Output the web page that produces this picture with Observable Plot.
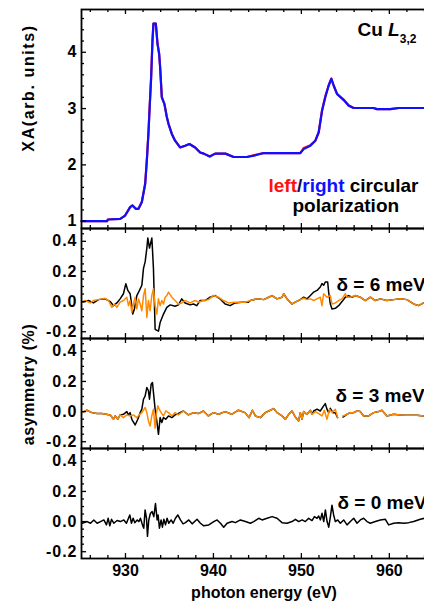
<!DOCTYPE html>
<html><head><meta charset="utf-8">
<script src="https://cdn.jsdelivr.net/npm/d3@7"></script>
<script src="https://cdn.jsdelivr.net/npm/@observablehq/plot@0.6"></script>
<style>
html,body{margin:0;padding:0;background:#fff;}
#chart{position:relative;width:424px;height:602px;overflow:hidden;background:#fff;}
</style></head><body><div id="chart"></div>
<script>
// ---------- axes / ticks ----------
const energyDomain = [925, 966.5];
const xMajorTicks = [930, 940, 950, 960];
const xMinorTicks = [926, 928, 932, 934, 936, 938, 942, 944, 946, 948, 952, 954, 956, 958, 962, 964, 966];
const xaDomain = [0.87, 4.76];
const xaMajorTicks = [1, 2, 3, 4];
const xaMinorTicks = [1.2, 1.4, 1.6, 1.8, 2.2, 2.4, 2.6, 2.8, 3.2, 3.4, 3.6, 3.8, 4.2, 4.4, 4.6];
const asymDomain = [-0.245, 0.485];
const asymMajorTicks = [-0.2, 0, 0.2, 0.4];
const asymMinorTicks = [-0.15, -0.1, -0.05, 0.05, 0.1, 0.15, 0.25, 0.3, 0.35, 0.45];

// ---------- texts ----------
const xTitle = "photon energy (eV)";
const xaTitle = "XA(arb. units)";
const asymTitle = "asymmetry (%)";
const edgeLabel = "Cu L3,2";
const polLine1 = "left/right circular";
const polLine2 = "polarization";
const deltaLabels = ["δ = 6 meV", "δ = 3 meV", "δ = 0 meV"];

// ---------- XA spectra [energy, XA] ----------
const xaRight = [[925.0,1.00],[927.9,1.00],[928.0,1.03],[929.4,1.04],[929.96,1.10],[930.53,1.25],[930.8,1.28],[931.17,1.22],[931.48,1.22],[931.86,1.34],[932.24,1.66],[932.43,2.08],[932.61,2.55],[932.73,2.96],[932.92,3.56],[933.07,4.21],[933.18,4.51],[933.45,4.51],[933.64,4.15],[933.83,3.97],[933.94,3.73],[934.13,3.20],[934.43,3.08],[934.70,2.85],[934.89,2.73],[935.27,2.55],[935.64,2.43],[936.21,2.31],[936.78,2.34],[937.27,2.37],[937.92,2.31],[938.49,2.22],[938.9,2.20],[939.58,2.15],[940.2,2.20],[941.36,2.20],[942.3,2.14],[943.8,2.14],[944.77,2.17],[945.72,2.21],[949.88,2.21],[950.26,2.28],[951.02,2.34],[951.59,2.43],[951.97,2.58],[952.35,2.96],[952.72,3.20],[953.1,3.41],[953.41,3.53],[953.67,3.41],[954.05,3.26],[954.81,3.15],[955.38,3.05],[955.94,3.01],[958.2,3.01],[958.6,2.99],[960.1,2.99],[961.06,3.01],[966.5,3.01]];
const xaLeft = [[925.0,1.00],[927.9,1.00],[928.0,1.03],[929.4,1.04],[929.96,1.10],[930.53,1.25],[930.8,1.28],[931.17,1.22],[931.48,1.22],[931.86,1.34],[932.24,1.67],[932.43,2.09],[932.61,2.57],[932.73,2.97],[932.92,3.56],[933.07,4.21],[933.18,4.51],[933.45,4.51],[933.64,4.16],[933.83,3.97],[933.94,3.74],[934.13,3.21],[934.43,3.08],[934.70,2.85],[934.89,2.73],[935.27,2.55],[935.64,2.43],[936.21,2.31],[936.78,2.34],[937.27,2.37],[937.92,2.31],[938.49,2.22],[938.9,2.20],[939.58,2.15],[940.2,2.20],[941.36,2.20],[942.3,2.14],[943.8,2.14],[944.77,2.18],[945.72,2.21],[949.88,2.21],[950.26,2.30],[951.02,2.35],[951.59,2.43],[951.97,2.58],[952.35,2.97],[952.72,3.22],[953.1,3.41],[953.41,3.53],[953.67,3.41],[954.05,3.26],[954.81,3.16],[955.38,3.06],[955.94,3.01],[958.2,3.01],[958.6,2.99],[960.1,2.99],[961.06,3.01],[966.5,3.01]];

// ---------- asymmetry δ = 6 meV [energy, %] ----------
const asym6Black = [[925.04,-0.004],[925.8,0.007],[926.36,-0.009],[926.93,0.013],[927.69,0.018],[928.26,0.0],[928.64,-0.027],[929.02,-0.009],[929.39,0.018],[929.77,0.052],[930.04,0.119],[930.27,0.074],[930.53,0.052],[930.72,-0.027],[930.83,-0.083],[931.02,-0.049],[931.29,0.04],[931.59,0.074],[931.86,0.108],[932.05,0.22],[932.24,0.265],[932.43,0.355],[932.54,0.422],[932.73,0.355],[933.0,0.422],[933.18,0.22],[933.37,-0.184],[933.75,-0.196],[933.94,-0.139],[934.32,-0.083],[934.7,-0.038],[935.08,-0.022],[935.64,-0.031],[936.02,-0.022],[936.4,0.018],[936.78,-0.009],[937.35,-0.022],[937.73,-0.016],[938.11,-0.027],[938.49,0.007],[939.05,0.007],[939.62,0.029],[940.19,0.04],[940.76,0.018],[941.33,-0.016],[941.9,-0.027],[942.46,-0.009],[943.22,-0.004],[943.98,-0.004],[944.2,0.007],[944.96,0.018],[945.72,0.013],[946.28,0.029],[946.66,0.04],[947.23,0.018],[947.8,0.029],[947.99,0.052],[948.37,0.018],[948.93,-0.016],[949.31,-0.004],[949.88,0.013],[950.26,0.029],[950.64,0.018],[951.02,0.04],[951.4,0.063],[951.78,0.074],[952.15,0.097],[952.34,0.119],[952.53,0.108],[952.72,0.13],[952.99,0.13],[953.1,0.063],[953.29,-0.016],[953.48,-0.049],[953.86,-0.045],[954.24,-0.027],[954.62,0.0],[955.0,0.029],[955.37,0.04],[955.75,0.029],[956.13,0.04],[956.7,0.029],[957.27,0.007],[957.84,0.029],[958.4,0.007],[958.97,0.018],[959.73,0.007],[960.49,0.013],[961.25,0.018],[962.0,0.013],[962.76,-0.016],[963.33,-0.027],[963.9,-0.009],[965.0,0.004]];
const asym6Orange = [[925.04,-0.004],[925.42,0.007],[925.99,-0.009],[926.36,0.007],[926.93,0.013],[927.69,0.022],[928.07,0.007],[928.45,-0.038],[928.75,-0.016],[929.02,-0.038],[929.39,-0.004],[929.77,0.007],[930.15,0.029],[930.34,-0.027],[930.53,0.007],[930.72,-0.072],[930.91,-0.016],[931.1,0.029],[931.29,-0.049],[931.48,0.018],[931.67,-0.016],[931.86,-0.061],[932.05,0.04],[932.24,0.085],[932.43,-0.106],[932.61,0.007],[932.8,-0.061],[932.99,0.04],[933.18,0.085],[933.37,-0.027],[933.56,-0.083],[933.75,0.018],[933.94,-0.027],[934.13,0.007],[934.32,-0.016],[934.51,0.029],[934.7,0.04],[934.89,0.063],[935.27,0.029],[935.64,0.007],[936.02,-0.016],[936.4,-0.009],[936.78,0.007],[937.35,-0.009],[937.92,0.007],[938.3,-0.004],[938.86,0.007],[939.43,0.013],[940.0,0.04],[940.57,0.029],[941.14,0.007],[941.71,-0.009],[942.46,-0.004],[943.6,-0.004],[944.2,0.007],[944.96,0.018],[945.72,0.013],[946.28,0.029],[946.66,0.04],[947.23,0.018],[947.8,0.029],[947.99,0.052],[948.37,0.018],[948.93,-0.016],[949.31,-0.004],[949.88,0.013],[950.26,0.022],[950.64,0.013],[951.02,0.018],[951.4,0.007],[951.78,0.018],[952.15,0.029],[952.34,-0.027],[952.53,0.052],[952.91,0.029],[953.29,0.04],[953.48,-0.016],[953.86,-0.009],[954.24,0.007],[954.62,0.018],[955.0,0.052],[955.19,0.029],[955.56,0.029],[956.13,0.04],[956.7,0.029],[957.27,0.007],[957.84,0.029],[958.4,0.007],[958.97,0.018],[959.73,0.007],[960.49,0.013],[961.25,0.018],[962.0,0.013],[962.76,-0.016],[963.33,-0.027],[963.9,-0.009],[965.0,0.004]];

// ---------- asymmetry δ = 3 meV [energy, %] (null = gap) ----------
const asym3Orange = [[925.04,-0.007],[925.61,0.009],[926.18,-0.007],[926.74,-0.013],[927.31,-0.013],[928.26,-0.022],[928.64,-0.051],[928.83,-0.029],[929.13,-0.051],[929.39,-0.022],[929.77,-0.04],[930.15,-0.022],[930.53,-0.029],[930.91,-0.022],[931.29,-0.04],[931.55,-0.022],[931.86,-0.007],[932.24,0.027],[932.43,-0.007],[932.61,-0.062],[932.8,-0.096],[932.99,-0.029],[933.18,0.016],[933.37,-0.111],[933.49,-0.018],[933.68,0.038],[933.83,0.016],[934.05,-0.007],[934.32,-0.029],[934.58,0.004],[934.89,-0.007],[935.27,-0.029],[935.64,-0.007],[936.02,-0.022],[936.59,0.004],[937.16,-0.022],[937.73,-0.007],[938.3,-0.013],[938.86,0.004],[939.43,-0.029],[940.0,-0.007],[940.57,-0.018],[941.33,0.0],[942.08,-0.018],[942.84,0.009],[943.6,-0.007],[944.05,-0.04],[944.43,0.009],[944.77,-0.029],[945.34,-0.04],[945.9,-0.007],[946.47,0.009],[946.85,0.02],[947.23,-0.007],[947.8,-0.029],[948.18,-0.051],[948.56,-0.018],[948.93,0.004],[949.31,-0.036],[949.69,-0.062],[949.88,-0.007],[950.07,-0.051],[950.26,0.0],[950.64,-0.018],[951.02,0.009],[951.21,-0.018],[951.59,0.0],[951.97,-0.013],[952.34,-0.029],[952.61,0.009],[952.91,-0.051],[953.21,0.016],[953.48,-0.007],[953.86,0.016],[954.12,-0.04],[954.4,null],[954.73,-0.029],[955.18,-0.018],[955.56,-0.007],[955.94,-0.007],[956.32,0.004],[956.7,0.0],[957.08,-0.029],[957.65,-0.029],[958.22,-0.007],[958.78,0.0],[959.16,0.009],[959.73,-0.029],[960.49,-0.018],[961.25,-0.022],[962.0,-0.024],[963.14,-0.024],[963.9,-0.029],[965.0,-0.029]];
const asym3BlackL3 = [[929.77,-0.018],[930.15,0.0],[930.34,-0.022],[930.53,-0.007],[930.72,-0.051],[931.1,-0.089],[931.4,-0.051],[931.67,-0.007],[931.86,0.016],[932.05,0.082],[932.24,0.104],[932.43,0.16],[932.61,0.138],[932.73,0.082],[932.92,0.182],[933.07,0.193],[933.22,0.104],[933.37,0.016],[933.56,-0.062],[933.75,-0.151],[933.94,-0.04],[934.13,-0.073],[934.32,-0.04],[934.58,-0.051],[934.89,-0.029],[935.27,-0.04],[935.64,-0.022],[936.02,-0.013]];
const asym3BlackL2 = [[951.21,-0.018],[951.4,0.004],[951.78,0.016],[952.15,0.004],[952.53,0.038],[952.72,0.053],[952.91,0.016],[953.1,-0.007],[953.29,0.022],[953.59,-0.007],[953.86,-0.007],[954.12,-0.04],[954.4,null],[954.73,-0.036]];
const asym3Black = [
  ...asym3Orange.filter(d => d[0] < 929.7),
  ...asym3BlackL3,
  ...asym3Orange.filter(d => d[0] > 936.1 && d[0] < 951.2),
  ...asym3BlackL2,
  ...asym3Orange.filter(d => d[0] > 954.8)
];

// ---------- asymmetry δ = 0 meV [energy, %] ----------
const asym0Black = [[925.08,-0.011],[925.64,0.0],[926.02,-0.011],[926.4,0.011],[926.78,-0.011],[927.16,0.0],[927.54,0.011],[927.84,-0.022],[928.03,0.022],[928.22,-0.028],[928.41,0.015],[928.67,-0.011],[929.05,0.007],[929.43,0.0],[929.81,0.011],[930.11,-0.011],[930.49,0.044],[930.68,-0.011],[930.87,0.022],[931.06,-0.007],[931.33,0.011],[931.52,0.0],[931.7,0.022],[931.93,-0.022],[932.08,-0.044],[932.23,0.077],[932.39,0.022],[932.5,-0.098],[932.65,0.011],[932.84,0.055],[933.03,0.066],[933.22,0.033],[933.41,0.12],[933.6,0.011],[933.71,0.044],[933.86,-0.044],[934.05,0.011],[934.2,-0.037],[934.36,0.015],[934.55,-0.022],[934.73,0.022],[934.92,-0.011],[935.19,0.011],[935.42,-0.011],[935.68,0.022],[935.95,0.044],[936.25,0.011],[936.55,-0.015],[936.82,-0.007],[937.2,0.011],[937.58,-0.015],[938.14,0.015],[938.52,-0.011],[938.9,-0.028],[939.47,-0.022],[940.04,0.0],[940.42,0.011],[940.8,-0.011],[941.17,-0.037],[941.55,-0.011],[942.12,0.0],[942.5,-0.007],[943.07,0.011],[943.64,0.0],[944.2,-0.011],[944.58,0.0],[945.15,0.022],[945.53,0.011],[946.1,0.022],[946.67,0.033],[947.23,0.022],[947.8,-0.007],[948.37,-0.011],[948.94,0.0],[949.32,0.015],[949.7,0.0],[950.08,0.011],[950.45,0.0],[950.83,0.022],[951.21,0.007],[951.48,0.033],[951.78,0.022],[951.97,0.037],[952.16,0.011],[952.35,0.055],[952.54,0.0],[952.73,0.077],[952.92,0.0],[953.11,-0.037],[953.3,0.033],[953.48,0.109],[953.67,0.044],[953.86,0.0],[954.13,0.011],[954.43,-0.011],[954.81,0.011],[955.19,-0.022],[955.57,0.0],[955.95,0.022],[956.33,-0.011],[956.7,0.011],[957.08,0.022],[957.46,0.0],[957.84,-0.011],[958.41,0.0],[958.98,0.011],[959.55,0.015],[959.92,-0.022],[960.49,-0.011],[961.06,-0.007],[961.63,-0.011],[962.2,-0.007],[962.77,0.0],[963.52,0.015],[963.98,0.022],[965.0,0.022]];

// ---------- colours ----------
const cRed = "#ff1010", cBlue = "#1010ff", cOrange = "#ff8a00", cBlack = "#000000";
const FONT = "'Liberation Sans', Arial, Helvetica, sans-serif";

const chart = document.getElementById("chart");

function makePanel({top, height, marginTop = 0, marginBottom = 0, yDomain, yMajor, yMinor, yFormat, marks, showX = false}) {
  const W = 446, ML = 81;
  const fh = height - marginTop - marginBottom, fw = W - ML;
  const tk = {stroke: "#000", strokeWidth: 1.3};
  const svg = Plot.plot({
    width: W, height, marginLeft: ML, marginRight: 0, marginTop, marginBottom,
    x: showX
      ? {domain: energyDomain, ticks: xMajorTicks, tickSize: 0, tickPadding: 6, tickFormat: d => String(d), label: null}
      : {domain: energyDomain, axis: null},
    y: {domain: yDomain, ticks: yMajor, tickSize: 0, tickPadding: 4, tickFormat: yFormat, label: null},
    marks: [
      ...marks,
      Plot.tickX(xMajorTicks, {x: d => d, insetBottom: fh - 5, ...tk}),
      Plot.tickX(xMajorTicks, {x: d => d, insetTop: fh - 5, ...tk}),
      Plot.tickX(xMinorTicks, {x: d => d, insetBottom: fh - 3, ...tk}),
      Plot.tickX(xMinorTicks, {x: d => d, insetTop: fh - 3, ...tk}),
      Plot.tickY(yMajor, {y: d => d, insetRight: fw - 5, ...tk}),
      Plot.tickY(yMinor, {y: d => d, insetRight: fw - 3, ...tk}),
      Plot.frame({stroke: "#000", strokeWidth: 1.8})
    ]
  });
  svg.style.position = "absolute";
  svg.style.left = "0px";
  svg.style.top = top + "px";
  svg.style.maxWidth = "none";
  svg.style.background = "transparent";
  svg.style.overflow = "visible";
  svg.style.fontFamily = FONT;
  svg.style.fontWeight = "bold";
  svg.style.fontSize = "16px";
  chart.appendChild(svg);
  return svg;
}

const txt = (s, o) => Plot.text([s], {text: d => d, frameAnchor: "top-left", textAnchor: "start", lineAnchor: "bottom", fontSize: 19, fontWeight: "bold", fill: "#000", ...o});
const yTitle = (s, dy) => Plot.text([s], {text: d => d, frameAnchor: "left", dx: -53, dy, rotate: -90, textAnchor: "middle", lineAnchor: "middle", fontSize: 16, fontWeight: "bold", fill: "#000"});
const line = (data, stroke, w) => Plot.line(data, {x: d => d[0], y: d => d[1], stroke, strokeWidth: w, curve: "linear"});
const asymFmt = d => d.toFixed(1);

// Panel 1: XA
const p1 = makePanel({
  top: 0, height: 228, marginTop: 9, yDomain: xaDomain, yMajor: xaMajorTicks, yMinor: xaMinorTicks, yFormat: d => String(d),
  marks: [
    line(xaLeft, cRed, 2.2),
    line(xaRight, cBlue, 2.2),
    txt(edgeLabel, {dx: 276, dy: 26}),
    txt(polLine1, {dx: 187, dy: 182}),
    txt(polLine2, {dx: 211, dy: 202}),
    yTitle(xaTitle, -31)
  ]
});
// Panel 2: δ = 6 meV
makePanel({
  top: 228, height: 110, yDomain: asymDomain, yMajor: asymMajorTicks, yMinor: asymMinorTicks, yFormat: asymFmt,
  marks: [line(asym6Black, cBlack, 1.5), line(asym6Orange, cOrange, 1.5), txt(deltaLabels[0], {dx: 255, dy: 62})]
});
// Panel 3: δ = 3 meV
makePanel({
  top: 338, height: 110, yDomain: asymDomain, yMajor: asymMajorTicks, yMinor: asymMinorTicks, yFormat: asymFmt,
  marks: [line(asym3Black, cBlack, 1.5), line(asym3Orange, cOrange, 1.5), txt(deltaLabels[1], {dx: 254, dy: 63}), yTitle(asymTitle, -9)]
});
// Panel 4: δ = 0 meV
makePanel({
  top: 448, height: 154, marginBottom: 44, yDomain: asymDomain, yMajor: asymMajorTicks, yMinor: asymMinorTicks, yFormat: asymFmt, showX: true,
  marks: [
    line(asym0Black, cBlack, 1.5),
    txt(deltaLabels[2], {dx: 256, dy: 60}),
    Plot.text([xTitle], {text: d => d, frameAnchor: "bottom", dy: 34, lineAnchor: "middle", fontSize: 16, fontWeight: "bold", fill: "#000"})
  ]
});

// rich text: italic L with subscript, coloured polarisation words
d3.select(p1).selectAll("text").filter(function() { return this.textContent === edgeLabel; }).each(function() {
  const t = d3.select(this); t.text(null);
  t.append("tspan").text("Cu ");
  t.append("tspan").attr("font-style", "italic").text("L");
  t.append("tspan").attr("font-size", 12).attr("dy", 7).text("3,2");
});
d3.select(p1).selectAll("text").filter(function() { return this.textContent === polLine1; }).each(function() {
  const t = d3.select(this); t.text(null);
  t.append("tspan").attr("fill", cRed).text("left");
  t.append("tspan").attr("fill", "#101060").text("/");
  t.append("tspan").attr("fill", cBlue).text("right");
  t.append("tspan").attr("fill", "#000").text(" circular");
});
d3.select(chart).selectAll("text").filter(function() { return this.textContent === xaTitle; }).attr("letter-spacing", "1.6px");
d3.select(chart).selectAll("text").filter(function() { return this.textContent === asymTitle; }).attr("letter-spacing", "0.6px");
d3.select(chart).selectAll("g[aria-label='y-axis'] text, g[aria-label='y-axis tick label'] text").attr("letter-spacing", "1px");
</script></body></html>
